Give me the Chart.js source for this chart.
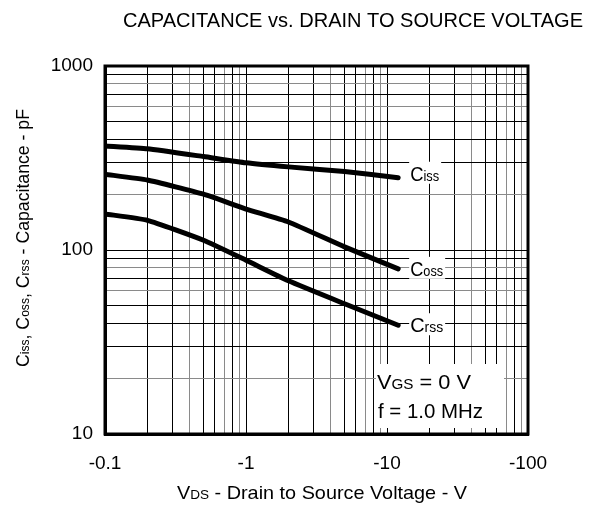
<!DOCTYPE html>
<html>
<head>
<meta charset="utf-8">
<script src="https://cdn.jsdelivr.net/npm/chart.js@4.4.1/dist/chart.umd.min.js"></script>
<style>
html,body{margin:0;padding:0;background:#fff;}
#wrap{width:589px;height:521px;position:relative;}
</style>
</head>
<body>
<div id="wrap"><canvas id="c" width="589" height="521"></canvas></div>
<script>
// ---- data ----
const vds  = [0.1, 0.2, 0.5, 1, 2, 5, 12];
const ciss = [368, 355, 322, 298, 283, 267, 247];
const coss = [258, 240, 201, 167, 142, 104, 79];
const crss = [157, 145, 113, 88, 68, 51, 39];

const xTickValues = [0.1,0.2,0.3,0.4,0.5,0.6,0.7,0.8,0.9,1,2,3,4,5,6,7,8,9,10,20,30,40,50,60,70,80,90,100];
const xMajor = [0.1, 1, 10, 100];
const xMajorLabels = ['-0.1', '-1', '-10', '-100'];
const yTickValues = [10,20,30,40,50,60,70,80,90,100,200,300,400,500,600,700,800,900,1000];
const yMajor = [10, 100, 1000];
const yMajorLabels = ['10', '100', '1000'];

const seriesNames = [['C','iss'], ['C','oss'], ['C','rss']];
const title = 'CAPACITANCE vs. DRAIN TO SOURCE VOLTAGE';
const yTitle = [['C',0],['iss',1],[', C',0],['oss',1],[', C',0],['rss',1],[' - Capacitance - pF',0]];
const xTitle = [['V',0],['DS',1],[' - Drain to Source Voltage - V',0]];
const noteLine1 = [['V',0],['GS',1],[' = 0 V',0]];
const noteLine2 = [['f = 1.0 MHz',0]];

const FONT = '"Liberation Sans", Arial, Helvetica, sans-serif';

function mant(v){ const e = Math.floor(Math.log10(v)+1e-9); return Math.round(v/Math.pow(10,e)); }

function drawRich(ctx, segs, x, y, big, small, align, fitWidth){
  let total = 0;
  const widths = segs.map(s=>{ ctx.font = (s[1]? small: big) + 'px ' + FONT; const w = ctx.measureText(s[0]).width; total += w; return w; });
  ctx.save();
  ctx.translate(x, y);
  let sx = 1;
  if (fitWidth) { sx = fitWidth/total; }
  ctx.scale(sx, 1);
  let start = align === 'center' ? -total/2 : 0;
  ctx.textBaseline = 'alphabetic';
  ctx.textAlign = 'left';
  ctx.fillStyle = '#000';
  let cx = start;
  segs.forEach((s,i)=>{
    ctx.font = (s[1]? small: big) + 'px ' + FONT;
    ctx.fillText(s[0], cx, 0);
    cx += widths[i];
  });
  ctx.restore();
  return total*sx;
}

const labelShift = [-4, 0, 0];

const decor = {
  id: 'decor',
  afterDraw(chart){
    const ctx = chart.ctx;
    const ca = chart.chartArea;
    ctx.save();
    ctx.strokeStyle = '#000';
    ctx.lineWidth = 3;
    ctx.strokeRect(ca.left, ca.top, ca.right-ca.left, ca.bottom-ca.top);
    ctx.restore();

    const xs = chart.scales.x, ys = chart.scales.y;
    const last = vds.length - 1;
    [ciss, coss, crss].forEach((arr, i)=>{
      const px = xs.getPixelForValue(vds[last]) + 12;
      const py = ys.getPixelForValue(arr[last]) + labelShift[i];
      ctx.save();
      ctx.fillStyle = '#fff';
      const bw = i===0 ? 32 : 36;
      ctx.fillRect(px-1, py-12, bw, 22);
      ctx.restore();
      drawRich(ctx, [[seriesNames[i][0],0],[seriesNames[i][1],1]], px, py+7, 20, 14, 'left', i===0 ? 29 : 33);
    });

    ctx.save();
    ctx.fillStyle = '#fff';
    ctx.fillRect(376, 364, 128, 64);
    ctx.restore();
    drawRich(ctx, noteLine1, 377, 389, 20, 14, 'left', 94);
    drawRich(ctx, noteLine2, 378, 418, 20, 14, 'left', 105);

    drawRich(ctx, [[title,0]], 353, 27, 20, 14, 'center', 460);
    drawRich(ctx, xTitle, 322, 499, 19, 13, 'center', 290);
    ctx.save();
    ctx.translate(29, 238);
    ctx.rotate(-Math.PI/2);
    drawRich(ctx, yTitle, 0, 0, 19, 13, 'center', 258);
    ctx.restore();
  }
};

const mk = (data, label) => ({
  label,
  data: vds.map((v,i)=>({x:v, y:data[i]})),
  borderColor: '#000',
  backgroundColor: '#000',
  borderWidth: 5,
  borderCapStyle: 'round',
  borderJoinStyle: 'round',
  pointRadius: 0,
  tension: 0.15,
  fill: false
});

new Chart(document.getElementById('c'), {
  type: 'line',
  data: { datasets: [mk(ciss,'Ciss'), mk(coss,'Coss'), mk(crss,'Crss')] },
  options: {
    responsive: false,
    animation: false,
    events: [],
    layout: { padding: { top: 66, right: 61, left: 0, bottom: 0 } },
    plugins: { legend: { display: false }, title: { display: false }, tooltip: { enabled: false } },
    scales: {
      x: {
        type: 'logarithmic', min: 0.1, max: 100,
        afterBuildTicks: s => { s.ticks = xTickValues.map(v => ({ value: v })); },
        afterFit: s => { s.height = 87; },
        ticks: {
          autoSkip: false, maxRotation: 0, minRotation: 0, padding: 18,
          color: '#000', font: { size: 19, family: FONT },
          callback: v => { const k = xMajor.indexOf(v); return k >= 0 ? xMajorLabels[k] : ''; }
        },
        grid: {
          drawTicks: false, lineWidth: 1,
          color: c => { const m = mant(c.tick.value); return (m===4||m===7||m===9) ? '#8a8a8a' : '#000'; }
        },
        border: { display: true, color: '#000', width: 3 }
      },
      y: {
        type: 'logarithmic', min: 10, max: 1000,
        afterBuildTicks: s => { s.ticks = yTickValues.map(v => ({ value: v })); },
        afterFit: s => { s.width = 105; },
        ticks: {
          autoSkip: false, padding: 12,
          color: '#000', font: { size: 19, family: FONT },
          callback: v => { const k = yMajor.indexOf(v); return k >= 0 ? yMajorLabels[k] : ''; }
        },
        grid: {
          drawTicks: false, lineWidth: 1,
          color: c => { const m = mant(c.tick.value); return (m===2||m===6||m===8) ? '#8a8a8a' : '#000'; }
        },
        border: { display: true, color: '#000', width: 3 }
      }
    }
  },
  plugins: [decor]
});
</script>
</body>
</html>
